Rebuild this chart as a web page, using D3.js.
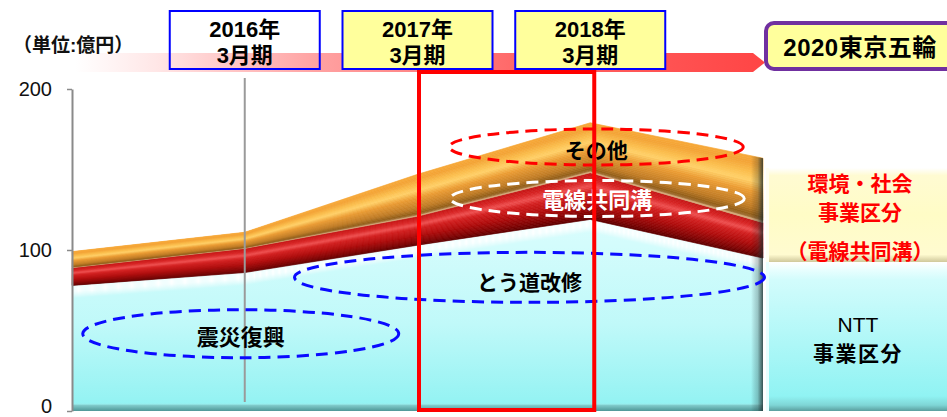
<!DOCTYPE html>
<html>
<head>
<meta charset="utf-8">
<script src="https://cdn.jsdelivr.net/npm/d3@7"></script>
<style>
  html, body { margin: 0; padding: 0; background: #fff; }
  svg { display: block; }
  text { font-family: "Liberation Sans", "Noto Sans CJK JP", sans-serif; }
</style>
</head>
<body>
<svg id="chart" width="947" height="417"></svg>
<script>
// ---- data (億円) ----
const periods = ["2015年3月期", "2016年3月期", "2017年3月期", "2018年3月期", "2019年3月期"];
const nttValues   = [78, 86, 103, 119, 95];   // NTT事業区分（震災復興・とう道改修）
const cableValues = [11, 15, 18, 29, 22];     // 電線共同溝
const otherValues = [10, 10, 26, 31, 40];     // その他
const yTicks = [0, 100, 200];
const headerPeriods = ["2016年3月期", "2017年3月期", "2018年3月期"];
const highlightedHeaders = ["2017年3月期", "2018年3月期"];
const milestoneLabel = "2020東京五輪";
const unitLabel = "（単位:億円）";

// ---- table for the stack layout ----
const table = periods.map((p, i) => ({
  period: p, ntt: nttValues[i], cable: cableValues[i], other: otherValues[i]
}));
const stacked = d3.stack().keys(["ntt", "cable", "other"])(table);

const svg = d3.select("#chart");
const x = d3.scalePoint().domain(periods).range([72, 763]);
const y = d3.scaleLinear().domain([0, 200]).range([411, 89]);

const defs = svg.append("defs");
function linGrad(id, x1, y1, x2, y2, stops) {
  const g = defs.append("linearGradient").attr("id", id)
    .attr("x1", x1).attr("y1", y1).attr("x2", x2).attr("y2", y2);
  stops.forEach(([o, c, a]) => g.append("stop").attr("offset", o)
    .attr("stop-color", c).attr("stop-opacity", a == null ? 1 : a));
  return g;
}

// ---- timeline banner ----
linGrad("bannerGrad", "0", "0", "1", "0", [
  [0, "#ffffff"], [0.12, "#ffe6e6"], [0.35, "#ffa2a2"], [0.65, "#ff6666"], [1, "#ff4545"]
]);
const bx0 = 75, bx1 = 753, by0 = 53, by1 = 72;
svg.append("polygon")
  .attr("points", [[bx0, by0], [bx1, by0], [bx1 + 12, (by0 + by1) / 2], [bx1, by1], [bx0, by1]].join(" "))
  .attr("fill", "url(#bannerGrad)");

svg.append("text").attr("x", 13).attr("y", 52)
  .attr("font-size", 19).attr("font-weight", "bold").attr("fill", "#111")
  .text(unitLabel);

// period boxes on the timeline
const boxW = 150, boxH = 58;
headerPeriods.forEach(p => {
  const cx = x(p);
  const g = svg.append("g");
  g.append("rect").attr("x", cx - boxW / 2).attr("y", 11).attr("width", boxW).attr("height", boxH)
    .attr("fill", highlightedHeaders.includes(p) ? "#ffff9c" : "none")
    .attr("stroke", "#0000ff").attr("stroke-width", 2);
  const [yearPart, monthPart] = p.split("年");
  g.append("text").attr("x", cx).attr("y", 37).attr("text-anchor", "middle")
    .attr("font-size", 22).attr("font-weight", "bold").attr("fill", "#000")
    .text(yearPart + "年");
  g.append("text").attr("x", cx).attr("y", 63).attr("text-anchor", "middle")
    .attr("font-size", 22).attr("font-weight", "bold").attr("fill", "#000")
    .text(monthPart);
});

// milestone box
svg.append("rect").attr("x", 766).attr("y", 23).attr("width", 220).attr("height", 46)
  .attr("rx", 8).attr("fill", "#ffff9c").attr("stroke", "#7030a0").attr("stroke-width", 4);
svg.append("text").attr("x", 860).attr("y", 56).attr("text-anchor", "middle")
  .attr("font-size", 24).attr("font-weight", "bold").attr("fill", "#000")
  .attr("letter-spacing", 0.5)
  .text(milestoneLabel);

// ---- stacked areas ----
const chartG = svg.append("g");

// band drawn as thin strips so the shading follows the slope of the band
function bandStrips(layer, colorAt, n) {
  const lower = layer.map(d => d[0]);
  const upper = layer.map(d => d[1]);
  for (let i = 0; i < n; i++) {
    const t0 = i / n, t1 = (i + 1) / n;
    const area = d3.area()
      .x((d, j) => x(periods[j]))
      .y0((d, j) => y(lower[j] + (upper[j] - lower[j]) * t0))
      .y1((d, j) => y(lower[j] + (upper[j] - lower[j]) * t1));
    const c = colorAt((t0 + t1) / 2);
    chartG.append("path").attr("d", area(periods))
      .attr("fill", c).attr("stroke", c).attr("stroke-width", 0.7);
  }
}

// NTT (cyan) base layer
linGrad("cyanGrad", "0", "0", "0", "1", [
  [0, "#dafdfd"], [0.55, "#c0f9f9"], [1, "#8ff2f2"]
]).attr("gradientUnits", "userSpaceOnUse").attr("y1", y(120)).attr("y2", y(0));
const ntt = stacked[0];
chartG.append("path")
  .attr("d", d3.area().x((d, i) => x(periods[i])).y0(d => y(d[0])).y1(d => y(d[1]))(ntt))
  .attr("fill", "url(#cyanGrad)");

// white bevel along the top of the cyan layer
const bevel = d3.scaleLinear().domain([0, 3, 6, 13]).range([0.75, 1, 0.95, 0]);
for (let k = 0; k < 13; k++) {
  const a = d3.area().x((d, i) => x(periods[i]))
    .y0(d => y(d[1]) + k + 1).y1(d => y(d[1]) + k);
  chartG.append("path").attr("d", a(ntt)).attr("fill", "#ffffff").attr("fill-opacity", bevel(k + 0.5));
}

// bottom edge of the cyan layer
linGrad("cyanBottom", "0", "0", "0", "1", [
  [0, "#a8eeee", 0], [0.3, "#7fcaca"], [1, "#4e9797"]
]);
chartG.append("rect").attr("x", x(periods[0])).attr("y", y(0) - 8)
  .attr("width", x(periods[periods.length - 1]) - x(periods[0])).attr("height", 8)
  .attr("fill", "url(#cyanBottom)");

// 電線共同溝 (red) layer
const redColor = d3.scaleLinear()
  .domain([0, 0.12, 0.35, 0.6, 0.72, 0.85, 1])
  .range(["#5c0000", "#7e0404", "#b00c0c", "#d42020", "#ee5050", "#d82424", "#c41414"]);
bandStrips(stacked[1], redColor, 28);

// その他 (orange) layer
const orangeColor = d3.scaleLinear()
  .domain([0, 0.06, 0.2, 0.45, 0.62, 0.75, 0.9, 1])
  .range(["#f0c8a0", "#8c5a18", "#c07c26", "#eb9c34", "#ffd068", "#fbbd4c", "#f3a336", "#f6a838"]);
bandStrips(stacked[2], orangeColor, 30);

// shaded right end face of the stack
const clip = defs.append("clipPath").attr("id", "stackClip");
clip.append("path").attr("d",
  d3.area().x((d, i) => x(periods[i])).y0(y(0)).y1(d => y(d[1]))(stacked[2]));
linGrad("endShade", "0", "0", "1", "0", [
  [0, "#000", 0], [0.55, "#1c2c2c", 0.25], [1, "#1c2c2c", 0.8]
]);
const xEnd = x(periods[periods.length - 1]);
chartG.append("rect").attr("x", xEnd - 12).attr("y", 0).attr("width", 12).attr("height", 417)
  .attr("fill", "url(#endShade)").attr("clip-path", "url(#stackClip)");

// ---- right-hand legend panels ----
const panelX = xEnd + 3;
const splitY = y(nttValues[nttValues.length - 1]) + 4;
linGrad("yellowPanel", "0", "0", "0", "1", [
  [0, "#ffffff"], [0.08, "#fffbd2"], [0.5, "#fffcc6"], [0.92, "#fffbd0"], [1, "#cfc79a"]
]);
svg.append("rect").attr("x", panelX).attr("y", 168).attr("width", 200).attr("height", splitY - 168)
  .attr("fill", "url(#yellowPanel)");
svg.append("rect").attr("x", panelX).attr("y", 168).attr("width", 3).attr("height", splitY - 168)
  .attr("fill", "#fffef0");

linGrad("cyanPanel", "0", "0", "0", "1", [
  [0, "#ffffff"], [0.06, "#e6fefe"], [0.12, "#d2fcfc"], [0.9, "#90f3f3"], [0.96, "#7fd6d6"], [1, "#5a9e9e"]
]);
svg.append("rect").attr("x", panelX).attr("y", splitY).attr("width", 200).attr("height", y(0) - splitY)
  .attr("fill", "url(#cyanPanel)");
svg.append("rect").attr("x", panelX).attr("y", splitY).attr("width", 3).attr("height", y(0) - splitY)
  .attr("fill", "#e8ffff");

const panelCx = 860;
[["環境・社会", 191], ["事業区分", 220], ["（電線共同溝）", 259]].forEach(([t, by]) => {
  svg.append("text").attr("x", panelCx).attr("y", by).attr("text-anchor", "middle")
    .attr("font-size", 21).attr("font-weight", "bold").attr("fill", "#ff0000").text(t);
});
svg.append("text").attr("x", 858).attr("y", 332).attr("text-anchor", "middle")
  .attr("font-size", 21).attr("fill", "#000").text("NTT");
svg.append("text").attr("x", 858).attr("y", 361).attr("text-anchor", "middle")
  .attr("font-size", 21).attr("font-weight", "bold").attr("fill", "#000")
  .attr("letter-spacing", 1.5).text("事業区分");

// ---- y axis ----
const axis = svg.append("g").attr("transform", `translate(${x(periods[0])},0)`)
  .call(d3.axisLeft(y).tickValues(yTicks).tickSize(5).tickSizeOuter(0).tickPadding(15));
axis.select(".domain").attr("stroke", "#8a8a8a").attr("stroke-width", 2);
axis.selectAll(".tick line").attr("stroke", "#8a8a8a").attr("stroke-width", 1.5);
axis.selectAll(".tick text").attr("font-size", 20).attr("fill", "#111")
  .attr("font-family", "'Liberation Sans', sans-serif")
  .attr("dy", d => d === 0 ? "0.05em" : "0.32em");

// marker for the 2016 period
svg.append("line").attr("x1", x(headerPeriods[0])).attr("x2", x(headerPeriods[0]))
  .attr("y1", 78).attr("y2", 402).attr("stroke", "#9a9a9a").attr("stroke-width", 2);

// ---- dashed callouts ----
const callouts = [
  { label: "震災復興", at: periods[1], dx: -4, v: 48, rx: 158, ry: 24, stroke: "#0a0aff", color: "#000", size: 22, dy: 4 },
  { label: "とう道改修", at: periods[2], dx: 112, v: 83, rx: 235, ry: 25, stroke: "#0a0aff", color: "#000", size: 21, dy: 5 },
  { label: "電線共同溝", at: periods[3], dx: 7, v: 132, rx: 147, ry: 18, stroke: "#ffffff", color: "#ffffff", size: 22, dy: 2 },
  { label: "その他", at: periods[3], dx: 6, v: 164, rx: 147, ry: 18, stroke: "#ff0000", color: "#000", size: 21, dy: 4 }
];
callouts.forEach(c => {
  const cx = x(c.at) + c.dx, cy = y(c.v);
  svg.append("ellipse").attr("cx", cx).attr("cy", cy).attr("rx", c.rx).attr("ry", c.ry)
    .attr("fill", "none").attr("stroke", c.stroke).attr("stroke-width", 3)
    .attr("stroke-dasharray", "12 7");
  svg.append("text").attr("x", cx).attr("y", cy + c.dy).attr("text-anchor", "middle")
    .attr("dominant-baseline", "central")
    .attr("font-size", c.size).attr("font-weight", "bold").attr("fill", c.color)
    .text(c.label);
});

// ---- focus frame over 2017〜2018 ----
const f0 = x(highlightedHeaders[0]) + 1.5, f1 = x(highlightedHeaders[1]) + 4;
svg.append("rect").attr("x", f0).attr("y", 72).attr("width", f1 - f0).attr("height", 338)
  .attr("fill", "none").attr("stroke", "#ff0000").attr("stroke-width", 4);
</script>
</body>
</html>
